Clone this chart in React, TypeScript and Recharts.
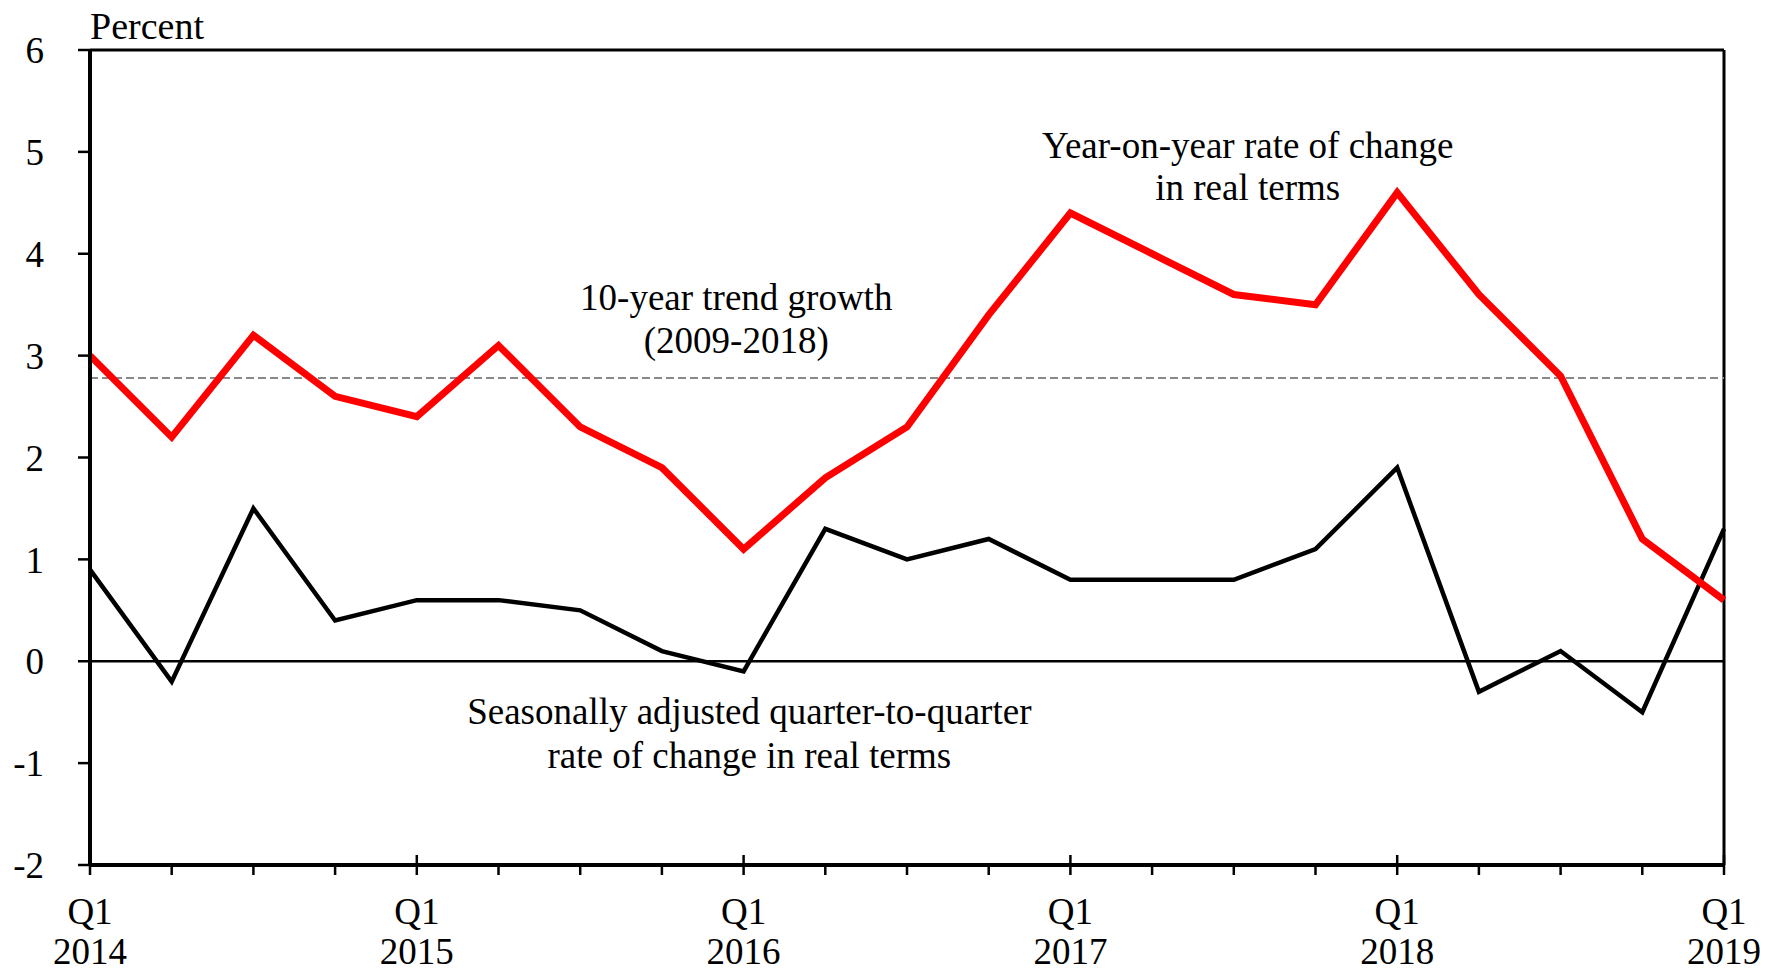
import { LineChart, Line, XAxis, YAxis, ReferenceLine, ReferenceDot } from 'recharts';

// Quarters Q1 2014 .. Q1 2019
const quarters = [
  'Q1 2014', 'Q2 2014', 'Q3 2014', 'Q4 2014',
  'Q1 2015', 'Q2 2015', 'Q3 2015', 'Q4 2015',
  'Q1 2016', 'Q2 2016', 'Q3 2016', 'Q4 2016',
  'Q1 2017', 'Q2 2017', 'Q3 2017', 'Q4 2017',
  'Q1 2018', 'Q2 2018', 'Q3 2018', 'Q4 2018',
  'Q1 2019',
];

const yearOnYear = [3.0, 2.2, 3.2, 2.6, 2.4, 3.1, 2.3, 1.9, 1.1, 1.8, 2.3, 3.4, 4.4, 4.0, 3.6, 3.5, 4.6, 3.6, 2.8, 1.2, 0.6];
const quarterOnQuarter = [0.9, -0.2, 1.5, 0.4, 0.6, 0.6, 0.5, 0.1, -0.1, 1.3, 1.0, 1.2, 0.8, 0.8, 0.8, 1.1, 1.9, -0.3, 0.1, -0.5, 1.3];

const trendGrowth = 2.78;
const yTicks = [-2, -1, 0, 1, 2, 3, 4, 5, 6];

const data = quarters.map((q, i) => ({ i, q, yoy: yearOnYear[i], qoq: quarterOnQuarter[i] }));

const FONT = '"Liberation Serif", "Times New Roman", serif';
const FS = 37;

// annotation lines: [x index, baseline value, text]
const notes: [number, number, string][] = [
  [14.17, 4.94, 'Year-on-year rate of change'],
  [14.17, 4.53, 'in real terms'],
  [7.91, 3.45, '10-year trend growth'],
  [7.91, 3.03, '(2009-2018)'],
  [8.07, -0.62, 'Seasonally adjusted quarter-to-quarter'],
  [8.07, -1.05, 'rate of change in real terms'],
];

const QuarterTick = (props: any) => {
  const { x, y, payload } = props;
  const label = quarters[payload.value] || '';
  const [qq, yr] = label.split(' ');
  if (qq !== 'Q1') return null;
  return (
    <g>
      <line x1={x} x2={x} y1={y - 12} y2={y - 22} stroke="#000" strokeWidth={2.5} />
      <text x={x} y={y + 47} textAnchor="middle" fontFamily={FONT} fontSize={FS} fill="#000">{qq}</text>
      <text x={x} y={y + 87} textAnchor="middle" fontFamily={FONT} fontSize={FS} fill="#000">{yr}</text>
    </g>
  );
};

const PercentLabel = (props: any) => {
  const { viewBox } = props;
  return (
    <text x={viewBox.x + viewBox.width} y={viewBox.y - 11} fontFamily={FONT} fontSize={38} fill="#000">
      Percent
    </text>
  );
};

export default function App() {
  return (
    <div style={{ position: 'absolute', left: 0, top: 0, background: '#fff' }}>
      <LineChart width={1768} height={976} data={data} margin={{ top: 50, right: 44, bottom: 0, left: 30 }}>
        <XAxis
          dataKey="i"
          type="number"
          domain={[0, 20]}
          ticks={data.map((d) => d.i)}
          interval={0}
          tick={<QuarterTick />}
          tickSize={10}
          axisLine={{ stroke: '#000', strokeWidth: 4 }}
          tickLine={{ stroke: '#000', strokeWidth: 2.5 }}
          height={111}
        />
        <YAxis
          domain={[-2, 6]}
          ticks={yTicks}
          interval={0}
          width={60}
          tickSize={12}
          tickMargin={34}
          axisLine={{ stroke: '#000', strokeWidth: 4 }}
          tickLine={{ stroke: '#000', strokeWidth: 2.5 }}
          tick={{ fill: '#000', fontFamily: FONT, fontSize: FS }}
          label={<PercentLabel />}
        />
        <ReferenceLine y={6} stroke="#000" strokeWidth={3} />
        <ReferenceLine x={20} stroke="#000" strokeWidth={3} />
        <ReferenceLine y={0} stroke="#000" strokeWidth={2.5} />
        <ReferenceLine y={trendGrowth} stroke="#888888" strokeWidth={2} strokeDasharray="8 4" />
        <Line dataKey="qoq" stroke="#000" strokeWidth={4.5} dot={false} isAnimationActive={false} strokeLinejoin="miter" />
        <Line dataKey="yoy" stroke="#ff0000" strokeWidth={7} dot={false} isAnimationActive={false} strokeLinejoin="miter" />
        {notes.map(([nx, ny, t], k) => (
          <ReferenceDot
            key={k}
            x={nx}
            y={ny}
            r={0}
            ifOverflow="visible"
            shape={(p: any) => (
              <text x={p.cx} y={p.cy} textAnchor="middle" fontFamily={FONT} fontSize={FS} fill="#000">
                {t}
              </text>
            )}
          />
        ))}
      </LineChart>
    </div>
  );
}
